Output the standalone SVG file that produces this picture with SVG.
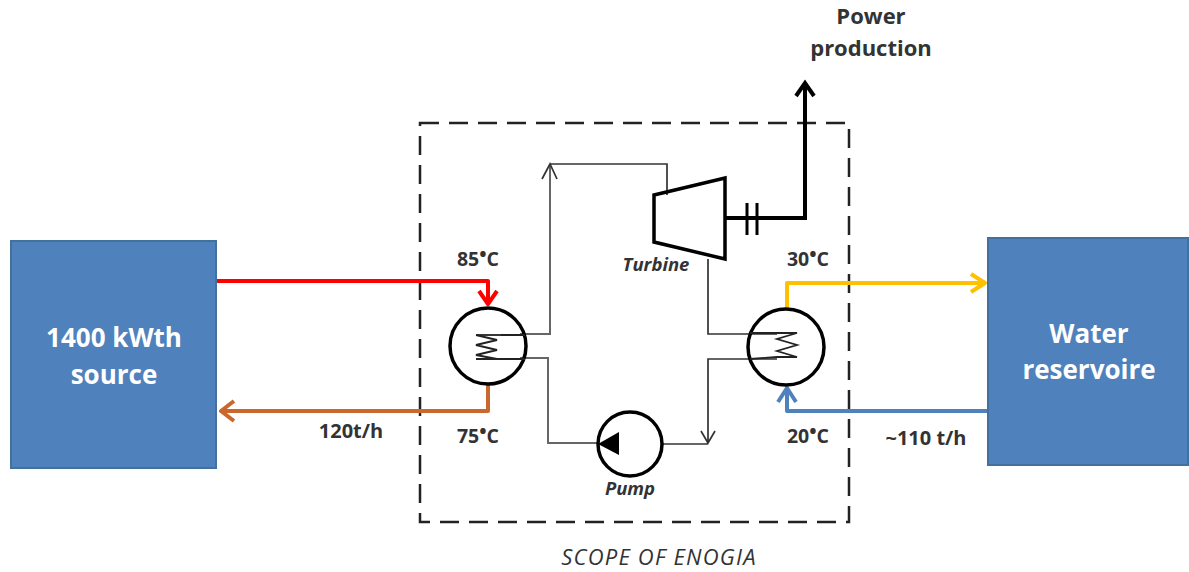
<svg xmlns="http://www.w3.org/2000/svg" width="1189" height="572" viewBox="0 0 1189 572">
<style>
text{font-family:"Open Sans","Liberation Sans",sans-serif;font-weight:700;fill:#333;text-anchor:middle}
.box{fill:#4f81bd;stroke:#41719c;stroke-width:2}
.big{font-size:26px;fill:#fff}
.lab{font-size:19.5px}
.flow{font-size:20px}
.it{font-size:18.5px;font-style:italic}
.k{fill:none;stroke:#000;stroke-width:3.5}
.thin{fill:none;stroke:#333;stroke-width:1.7}
.grey{fill:none;stroke:#666;stroke-width:2}
.c{fill:none;stroke-width:4;stroke-linejoin:round}
.coil{fill:none;stroke:#222;stroke-width:1.8}
.pow{font-size:22px}
</style>
<rect width="1189" height="572" fill="#fff"/>
<g id="scope"><rect x="420" y="123" width="429" height="399" fill="none" stroke="#222" stroke-width="2.5" stroke-dasharray="19 10"/>
<text x="659" y="565" font-size="22" letter-spacing="1.2" style="font-weight:400;font-style:italic">SCOPE OF ENOGIA</text></g>
<g id="connectors">
<path class="c" stroke="#f00" d="M217 281H488V304M479 291L488 304L497 291"/>
<path class="c" stroke="#c9682c" d="M488 385V411H222M234 401L221 411L234 421"/>
<path class="c" stroke="#ffc000" d="M787 308V283H983M971 274L985 283L971 292"/>
<path class="c" stroke="#4f81bd" d="M987 411H787V389M778 402L787 388L796 402"/>
<path class="grey" d="M520 334H550V164"/>
<path class="thin" d="M550 164H667V195M542 179L550 164L557 179"/>
<path class="thin" d="M708 259V334H777M777 359H708V443M701 431L708 443L715 431M662 444H708"/>
<path class="grey" d="M520 358H548V443H598"/>
<path d="M805 85V218H725" fill="none" stroke="#000" stroke-width="4"/>
<path d="M796 96L805 83L814 96" fill="none" stroke="#000" stroke-width="4"/>
<path d="M747 203V235M757 203V235" stroke="#000" stroke-width="3"/>
</g>
<g id="source"><rect class="box" x="11" y="241" width="205" height="227"/><text class="big" x="114" y="347">1400 kWth</text><text class="big" x="114" y="384">source</text></g>
<g id="reservoir"><rect class="box" x="988" y="238" width="200" height="227"/><text class="big" x="1089" y="343">Water</text><text class="big" x="1089" y="379">reservoire</text></g>
<g id="hx-left"><circle class="k" cx="488" cy="346" r="38"/><path class="coil" d="M525 335H501M476 335L497 340L476 345L497 350L476 355L497 359H476M495 359H525"/><path class="coil" d="M476 335H501"/></g>
<g id="hx-right"><circle class="k" cx="786" cy="347" r="38"/><path class="coil" d="M750 333H797L777 339L797 345L777 351L797 357H777L750 359"/></g>
<g id="turbine"><path class="k" d="M654 195L725 178V259L654 242Z"/><text class="it" x="656" y="271">Turbine</text></g>
<g id="pump"><circle class="k" cx="630" cy="444" r="32"/><path d="M598 444L619 432V455Z" fill="#000"/><text class="it" x="630" y="495">Pump</text></g>
<g id="labels">
<text class="lab" x="478" y="266">85<tspan dy="-5">•</tspan><tspan dy="5">C</tspan></text>
<text class="lab" x="478" y="443">75<tspan dy="-5">•</tspan><tspan dy="5">C</tspan></text>
<text class="lab" x="808" y="266">30<tspan dy="-5">•</tspan><tspan dy="5">C</tspan></text>
<text class="lab" x="808" y="443">20<tspan dy="-5">•</tspan><tspan dy="5">C</tspan></text>
<text class="flow" x="351" y="438">120t/h</text>
<text class="flow" x="926" y="445">~110 t/h</text>
<text class="pow" x="871" y="24">Power</text>
<text class="pow" x="871" y="56">production</text>
</g>
</svg>
